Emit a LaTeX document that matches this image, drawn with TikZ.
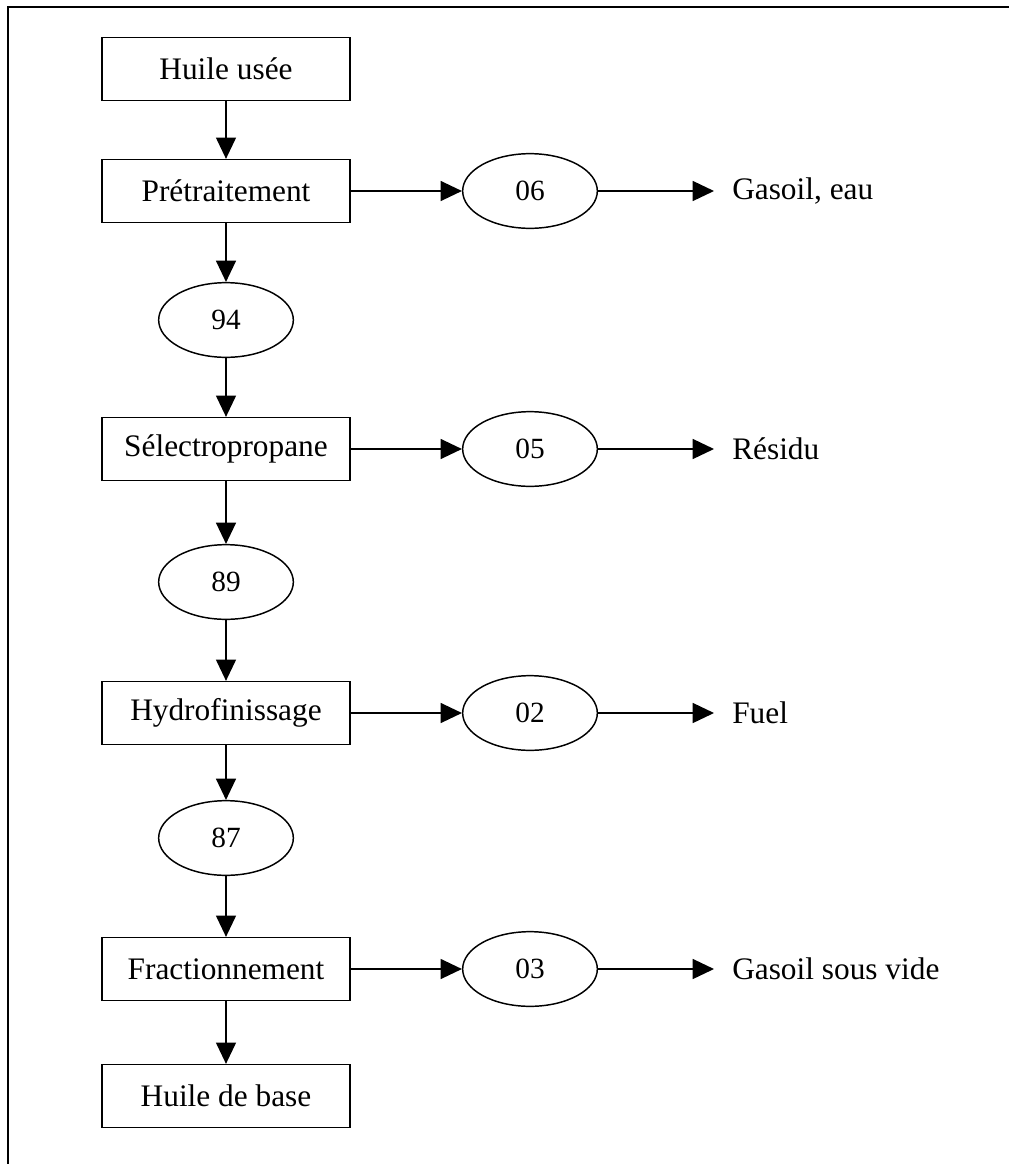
\documentclass[tikz,border=0pt]{standalone}
\usepackage{fontspec}
\setmainfont{Liberation Serif}
\usepackage{tikz}
\usetikzlibrary{arrows.meta,shapes.geometric,positioning}
\newcommand{\fleche}[2]{%
  \draw[-{Triangle[length=16pt,width=15pt]},line width=1.1pt] (#1)--(#2);}

\begin{document}
\begin{tikzpicture}[x=0.75pt,y=-0.75pt,
  etape/.style={draw,line width=1.2pt,minimum width=186pt,minimum height=47pt,inner sep=0pt,font=\fontsize{23.5}{28}\selectfont},
  taux/.style={draw,ellipse,line width=1.1pt,minimum width=101pt,minimum height=56pt,inner sep=0pt,font=\fontsize{22}{26}\selectfont},
  produit/.style={anchor=west,inner xsep=13.5pt,inner ysep=0pt,font=\fontsize{23.5}{28}\selectfont}]
  \useasboundingbox (0,0) rectangle (1009,1164);
  \draw[line width=1.5pt] (8,1164)--(8,7)--(1009,7);
  \node[etape] (usee) at (226,69) {Huile usée};
  \node[etape] (pretr) at (226,191) {Prétraitement};
  \node[taux] (t94) at (226,320) {94};
  \node[etape] (selec) at (226,449) {Sélectropropane};
  \node[taux] (t89) at (226,582) {89};
  \node[etape] (hydro) at (226,713) {Hydrofinissage};
  \node[taux] (t87) at (226,838) {87};
  \node[etape] (fract) at (226,969) {Fractionnement};
  \node[etape] (base) at (226,1096) {Huile de base};
  \node[taux] (t06) at (530,191) {06};
  \node[taux] (t05) at (530,449) {05};
  \node[taux] (t02) at (530,713) {02};
  \node[taux] (t03) at (530,969) {03};
  \node[produit] (gasoil) at (714,191) {Gasoil, eau};
  \node[produit] (residu) at (714,449) {Résidu};
  \node[produit] (fuel) at (714,713) {Fuel};
  \node[produit] (gsv) at (714,969) {Gasoil sous vide};
  \fleche{usee}{pretr}
  \fleche{pretr}{t94}
  \fleche{t94}{selec}
  \fleche{selec}{t89}
  \fleche{t89}{hydro}
  \fleche{hydro}{t87}
  \fleche{t87}{fract}
  \fleche{fract}{base}
  \fleche{pretr}{t06}
  \fleche{selec}{t05}
  \fleche{hydro}{t02}
  \fleche{fract}{t03}
  \fleche{t06}{gasoil.west}
  \fleche{t05}{residu.west}
  \fleche{t02}{fuel.west}
  \fleche{t03}{gsv.west}
\end{tikzpicture}
\end{document}
